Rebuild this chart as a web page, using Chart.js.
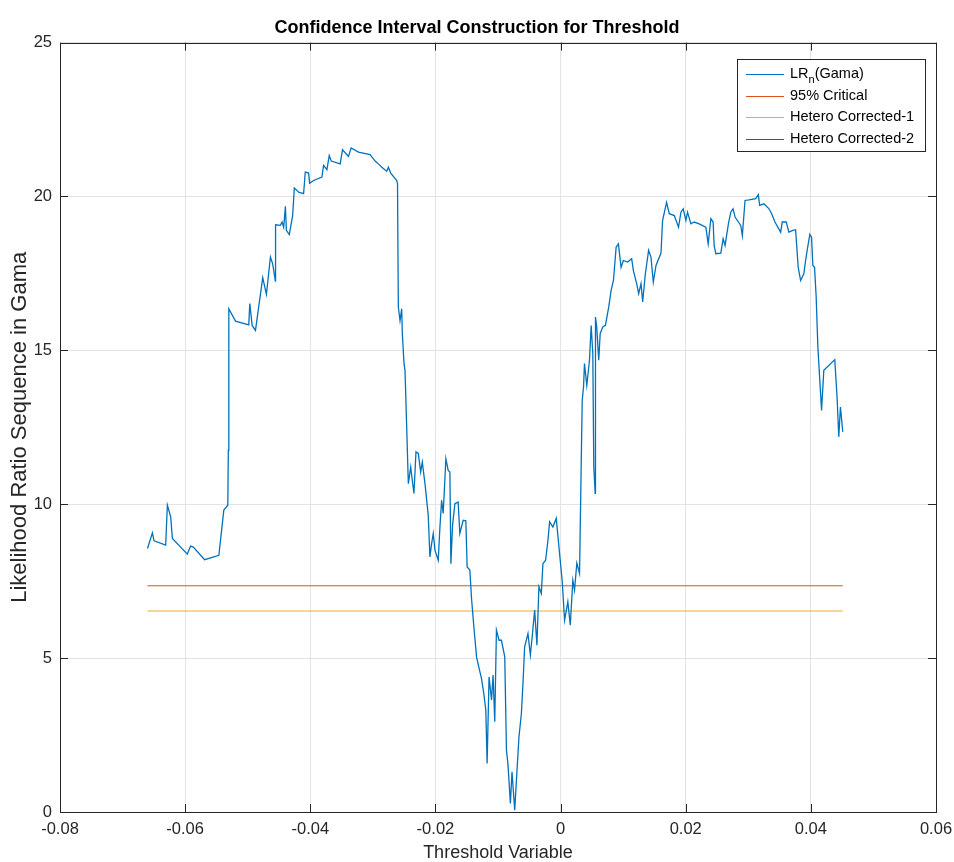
<!DOCTYPE html>
<html>
<head>
<meta charset="utf-8">
<script src="https://cdn.jsdelivr.net/npm/chart.js@4.4.0/dist/chart.umd.min.js"></script>
<style>
  html, body { margin: 0; padding: 0; background: #fff; }
</style>
</head>
<body>
<canvas id="myChart" width="954" height="862"></canvas>
<script>
// threshold values (gamma) and the LR_n sequence
const gamaX = [
  -0.06602, -0.06523, -0.06497, -0.06311, -0.06284, -0.06231, -0.06204, -0.05965, -0.05912, -0.05869,
  -0.05689, -0.05461, -0.05382, -0.05318, -0.05310, -0.05302, -0.05195, -0.04983, -0.04967, -0.04929,
  -0.04876, -0.04760, -0.04701, -0.04637, -0.04601, -0.04558, -0.04555, -0.04478, -0.04451, -0.04425,
  -0.04398, -0.04382, -0.04335, -0.04282, -0.04255, -0.04186, -0.04107, -0.04080, -0.04027, -0.04011,
  -0.03947, -0.03814, -0.03788, -0.03734, -0.03697, -0.03665, -0.03522, -0.03485, -0.03390, -0.03347,
  -0.03230, -0.03044, -0.02964, -0.02912, -0.02857, -0.02778, -0.02752, -0.02714, -0.02618, -0.02606,
  -0.02593, -0.02566, -0.02539, -0.02529, -0.02502, -0.02486, -0.02433, -0.02395, -0.02370, -0.02343,
  -0.02311, -0.02274, -0.02236, -0.02210, -0.02167, -0.02115, -0.02088, -0.02061, -0.02035, -0.02008,
  -0.01955, -0.01928, -0.01901, -0.01876, -0.01833, -0.01796, -0.01769, -0.01753, -0.01726, -0.01689,
  -0.01637, -0.01610, -0.01557, -0.01514, -0.01493, -0.01450, -0.01423, -0.01386, -0.01343, -0.01302,
  -0.01264, -0.01227, -0.01195, -0.01174, -0.01143, -0.01104, -0.01079, -0.01052, -0.01025, -0.00983,
  -0.00945, -0.00892, -0.00865, -0.00840, -0.00802, -0.00776, -0.00733, -0.00696, -0.00665, -0.00626,
  -0.00601, -0.00574, -0.00521, -0.00483, -0.00451, -0.00414, -0.00378, -0.00346, -0.00308, -0.00282,
  -0.00239, -0.00202, -0.00175, -0.00123, -0.00069, -0.00016, 0.00027, 0.00064, 0.00116, 0.00155,
  0.00196, 0.00223, 0.00260, 0.00303, 0.00330, 0.00346, 0.00367, 0.00382, 0.00419, 0.00462,
  0.00489, 0.00515, 0.00531, 0.00553, 0.00558, 0.00578, 0.00610, 0.00633, 0.00674, 0.00717,
  0.00770, 0.00808, 0.00845, 0.00888, 0.00924, 0.00967, 0.01004, 0.01073, 0.01136, 0.01163,
  0.01216, 0.01248, 0.01286, 0.01312, 0.01355, 0.01407, 0.01445, 0.01482, 0.01525, 0.01605,
  0.01630, 0.01694, 0.01737, 0.01817, 0.01885, 0.01924, 0.01960, 0.02003, 0.02029, 0.02083,
  0.02135, 0.02215, 0.02322, 0.02359, 0.02402, 0.02438, 0.02454, 0.02481, 0.02561, 0.02598,
  0.02629, 0.02682, 0.02720, 0.02757, 0.02789, 0.02880, 0.02905, 0.02948, 0.03012, 0.03119,
  0.03160, 0.03182, 0.03251, 0.03331, 0.03374, 0.03426, 0.03517, 0.03543, 0.03606, 0.03649,
  0.03713, 0.03756, 0.03798, 0.03836, 0.03888, 0.03916, 0.03941, 0.03984, 0.04011, 0.04032,
  0.04059, 0.04085, 0.04112, 0.04171, 0.04207, 0.04382, 0.04419, 0.04446, 0.04473, 0.04510
];
const lrValues = [
  8.56, 9.07, 8.81, 8.67, 9.97, 9.59, 8.89, 8.38, 8.64, 8.61,
  8.20, 8.34, 9.81, 9.97, 11.75, 16.35, 15.95, 15.83, 16.52, 15.81,
  15.65, 17.36, 16.82, 18.03, 17.81, 17.25, 19.08, 19.06, 19.17, 19.00,
  19.68, 18.90, 18.76, 19.38, 20.28, 20.14, 20.09, 20.79, 20.76, 20.43,
  20.52, 20.63, 21.01, 20.87, 21.33, 21.15, 21.06, 21.52, 21.30, 21.58,
  21.44, 21.36, 21.15, 21.06, 20.95, 20.82, 20.95, 20.76, 20.52, 20.42,
  16.41, 15.97, 16.35, 15.54, 14.57, 14.35, 10.67, 11.21, 10.78, 10.35,
  11.70, 11.65, 11.05, 11.37, 10.67, 9.64, 8.29, 8.72, 9.05, 8.51,
  8.18, 9.26, 10.13, 9.70, 11.48, 11.10, 11.05, 8.07, 9.32, 10.02,
  10.07, 9.05, 9.48, 9.46, 7.96, 7.86, 6.94, 6.02, 5.04, 4.67,
  4.34, 3.85, 3.31, 1.58, 4.39, 3.64, 4.45, 2.93, 5.91, 5.58,
  5.58, 5.04, 2.01, 1.53, 0.28, 1.31, 0.06, 1.36, 2.44, 3.20,
  4.18, 5.37, 5.80, 5.10, 5.75, 6.56, 5.42, 7.32, 7.10, 8.07,
  8.18, 8.83, 9.43, 9.26, 9.54, 8.40, 7.48, 6.23, 6.83, 6.07,
  7.53, 7.21, 8.09, 7.75, 11.32, 13.38, 13.81, 14.57, 13.86, 14.68,
  15.81, 14.89, 11.21, 10.35, 16.08, 15.76, 14.68, 15.54, 15.76, 15.81,
  16.41, 16.95, 17.27, 18.35, 18.46, 17.70, 17.92, 17.87, 17.98, 17.60,
  17.17, 16.84, 17.17, 16.57, 17.49, 18.25, 18.03, 17.22, 17.76, 18.16,
  19.22, 19.81, 19.44, 19.38, 19.00, 19.49, 19.60, 19.22, 19.49, 19.11,
  19.17, 19.11, 19.00, 18.46, 19.28, 19.17, 18.41, 18.14, 18.16, 18.63,
  18.41, 19.11, 19.49, 19.60, 19.33, 19.06, 18.73, 19.87, 19.89, 19.93,
  20.06, 19.71, 19.76, 19.60, 19.44, 19.17, 18.84, 19.17, 19.17, 18.84,
  18.90, 18.92, 17.70, 17.27, 17.49, 17.92, 18.25, 18.77, 18.68, 17.76,
  17.70, 16.73, 15.11, 13.05, 14.35, 14.70, 13.48, 12.19, 13.16, 12.35
];
// horizontal reference lines, from first to last gamma
const critX = [-0.06602, 0.04510];
const critical95 = [7.35, 7.35];
const hetero1 = [6.53, 6.53];
const hetero2 = [6.53, 6.53];

const seriesNames = ['LR_n(Gama)', '95% Critical', 'Hetero Corrected-1', 'Hetero Corrected-2'];
const seriesColors = ['#0072BD', '#D95319', '#EDB120', '#7E2F8E'];

const toPoints = (xs, ys) => xs.map((x, i) => ({ x: x, y: ys[i] }));
const axisColor = '#262626';
const fontFamily = '"Liberation Sans", Arial, Helvetica, sans-serif';

// MATLAB style box with inward tick marks
const boxPlugin = {
  id: 'box',
  afterDatasetsDraw(chart) {
    const { ctx, chartArea: a, scales } = chart;
    ctx.save();
    ctx.strokeStyle = axisColor;
    ctx.lineWidth = 1;
    ctx.beginPath();
    scales.x.ticks.forEach(t => {
      const px = Math.round(scales.x.getPixelForValue(t.value)) + 0.5;
      ctx.moveTo(px, a.bottom); ctx.lineTo(px, a.bottom - 8);
      ctx.moveTo(px, a.top); ctx.lineTo(px, a.top + 8);
    });
    scales.y.ticks.forEach(t => {
      const py = Math.round(scales.y.getPixelForValue(t.value)) + 0.5;
      ctx.moveTo(a.left, py); ctx.lineTo(a.left + 8, py);
      ctx.moveTo(a.right, py); ctx.lineTo(a.right - 8, py);
    });
    ctx.stroke();
    ctx.strokeRect(Math.round(a.left) + 0.5, Math.round(a.top) + 0.5,
                   Math.round(a.right - a.left), Math.round(a.bottom - a.top));
    ctx.restore();
  }
};

// legend box in the upper right corner of the axes
const legendPlugin = {
  id: 'innerLegend',
  afterDraw(chart) {
    const { ctx, chartArea: a } = chart;
    const w = 188, h = 92, x0 = Math.round(a.right) - 11 - w, y0 = Math.round(a.top) + 16;
    const fs = 14.5;
    ctx.save();
    ctx.fillStyle = '#fff';
    ctx.fillRect(x0, y0, w, h);
    ctx.strokeStyle = axisColor;
    ctx.lineWidth = 1;
    ctx.strokeRect(x0 + 0.5, y0 + 0.5, w, h);
    ctx.textBaseline = 'middle';
    chart.data.datasets.forEach((ds, i) => {
      const y = y0 + 15 + Math.round(i * 21.7);
      ctx.strokeStyle = seriesColors[i];
      ctx.lineWidth = 1;
      ctx.beginPath();
      ctx.moveTo(x0 + 9, y + 0.5); ctx.lineTo(x0 + 47, y + 0.5);
      ctx.stroke();
      ctx.fillStyle = '#000';
      ctx.font = fs + 'px ' + fontFamily;
      let tx = x0 + 53;
      const parts = ds.label.split('_');
      if (parts.length > 1) {
        ctx.fillText(parts[0], tx, y);
        tx += ctx.measureText(parts[0]).width;
        const sub = parts[1].charAt(0), rest = parts[1].slice(1);
        ctx.font = '11px ' + fontFamily;
        ctx.fillText(sub, tx, y + 6);
        tx += ctx.measureText(sub).width;
        ctx.font = fs + 'px ' + fontFamily;
        ctx.fillText(rest, tx, y);
      } else {
        ctx.fillText(ds.label, tx, y);
      }
    });
    ctx.restore();
  }
};

const lineDs = (i, data, width) => ({
  label: seriesNames[i],
  data: data,
  borderColor: seriesColors[i],
  borderWidth: width,
  pointRadius: 0,
  tension: 0,
  fill: false
});

// Hetero Corrected-2 coincides with Hetero Corrected-1 and stays hidden under it
const hetero2Ds = Object.assign(lineDs(3, toPoints(critX, hetero2), 1), { hidden: true });

new Chart(document.getElementById('myChart').getContext('2d'), {
  type: 'line',
  data: {
    datasets: [
      lineDs(0, toPoints(gamaX, lrValues), 1.3),
      lineDs(1, toPoints(critX, critical95), 1),
      lineDs(2, toPoints(critX, hetero1), 1),
      hetero2Ds
    ]
  },
  options: {
    responsive: false,
    animation: false,
    layout: { padding: { left: 0, right: 0, top: 0, bottom: 0 } },
    plugins: {
      legend: { display: false },
      tooltip: { enabled: false },
      title: {
        display: true,
        text: 'Confidence Interval Construction for Threshold',
        color: '#000',
        font: { family: fontFamily, size: 18, weight: 'bold' },
        padding: { top: 17, bottom: 4 }
      }
    },
    scales: {
      x: {
        type: 'linear',
        min: -0.08, max: 0.06,
        afterFit: s => { s.height = 50; s.paddingRight = 18; s.paddingLeft = 0; },
        ticks: {
          stepSize: 0.02,
          color: axisColor,
          padding: 8,
          maxRotation: 0,
          font: { family: fontFamily, size: 16.5 },
          callback: v => String(parseFloat(v.toFixed(2)))
        },
        grid: { color: '#e3e3e3', drawTicks: false },
        border: { display: false },
        title: {
          display: true,
          text: 'Threshold Variable',
          color: axisColor,
          font: { family: fontFamily, size: 18 },
          padding: { top: 0, bottom: -2 }
        }
      },
      y: {
        min: 0, max: 25,
        afterFit: s => { s.width = 60; },
        ticks: {
          stepSize: 5,
          color: axisColor,
          padding: 8,
          font: { family: fontFamily, size: 16.5 }
        },
        grid: { color: '#e3e3e3', drawTicks: false },
        border: { display: false },
        title: {
          display: true,
          text: 'Likelihood Ratio Sequence in Gama',
          color: axisColor,
          font: { family: fontFamily, size: 22 },
          padding: { top: 7, bottom: 0 }
        }
      }
    }
  },
  plugins: [boxPlugin, legendPlugin]
});
</script>
</body>
</html>
